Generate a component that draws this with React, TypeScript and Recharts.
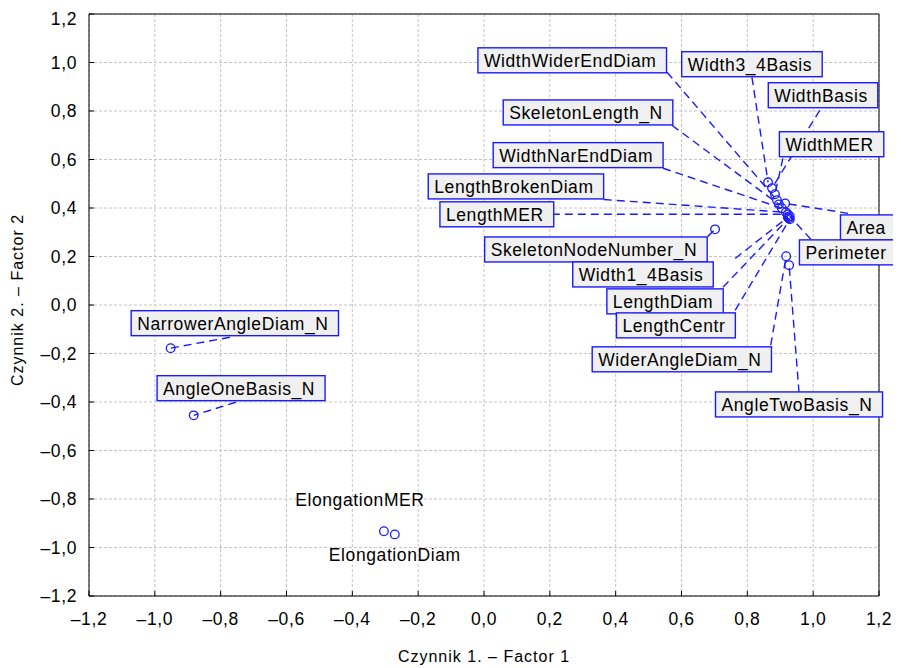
import { ScatterChart, Scatter, XAxis, YAxis, CartesianGrid } from "recharts";

// loadings (factor 1 / factor 2)
const names = [
  "WidthWiderEndDiam", "Width3_4Basis", "WidthBasis", "SkeletonLength_N",
  "WidthMER", "WidthNarEndDiam", "LengthBrokenDiam", "LengthMER",
  "Area", "Perimeter", "SkeletonNodeNumber_N", "Width1_4Basis",
  "LengthDiam", "LengthCentr", "WiderAngleDiam_N", "AngleTwoBasis_N",
  "NarrowerAngleDiam_N", "AngleOneBasis_N", "ElongationMER", "ElongationDiam",
];
const pointX = [0.890, 0.863, 0.875, 0.896, 0.884, 0.905, 0.917, 0.923, 0.915, 0.929, 0.702, 0.923, 0.926, 0.929, 0.918, 0.927, -0.952, -0.882, -0.304, -0.271];
const pointY = [0.432, 0.506, 0.482, 0.415, 0.457, 0.399, 0.382, 0.374, 0.419, 0.366, 0.312, 0.362, 0.358, 0.354, 0.201, 0.164, -0.178, -0.455, -0.933, -0.946];

// where each label sits, and where its leader leaves the box (chart units)
const labelX = [0.268, 0.814, 1.030, 0.316, 1.056, 0.286, 0.097, 0.039, 1.167, 1.106, 0.340, 0.483, 0.550, 0.583, 0.601, 0.957, -0.757, -0.738, -0.377, -0.271];
const labelY = [1.009, 0.993, 0.865, 0.794, 0.663, 0.618, 0.489, 0.374, 0.320, 0.217, 0.229, 0.126, 0.015, -0.084, -0.224, -0.410, -0.075, -0.343, -0.803, -1.032];
const leaderX = [0.556, 0.814, 1.020, 0.571, 0.908, 0.544, 0.364, 0.206, 1.106, 0.993, 0.680, 0.763, 0.726, 0.763, 0.871, 0.957, -0.772, -0.754, null, null];
const leaderY = [0.960, 0.939, 0.803, 0.741, 0.605, 0.564, 0.435, 0.374, 0.378, 0.271, 0.283, 0.192, 0.073, -0.022, -0.166, -0.361, -0.133, -0.401, null, null];

const ticks = [-1.2, -1.0, -0.8, -0.6, -0.4, -0.2, 0, 0.2, 0.4, 0.6, 0.8, 1.0, 1.2];

const BLUE = "#1a1aff";
const FONT = '"Liberation Sans", Arial, sans-serif';
const LABEL_SIZE = 17.5;
const LABEL_SPACING = 0.6;

const points = names.map((name, i) => ({ name, x: pointX[i], y: pointY[i] }));
const labels = names.map((name, i) => ({ name, x: labelX[i], y: labelY[i], boxed: leaderX[i] !== null }));
const leaders = names
  .map((name, i) => ({ name, i }))
  .filter(({ i }) => leaderX[i] !== null)
  .map(({ name, i }) => ({
    name,
    data: [
      { x: leaderX[i], y: leaderY[i] },
      { x: pointX[i], y: pointY[i] },
    ],
  }));

let ctx: CanvasRenderingContext2D | null = null;
function textWidth(s: string) {
  if (!ctx) ctx = document.createElement("canvas").getContext("2d");
  if (!ctx) return s.length * 9;
  ctx.font = `${LABEL_SIZE}px ${FONT}`;
  return ctx.measureText(s).width + s.length * LABEL_SPACING;
}

const fmt = (v: number) => v.toFixed(1).replace(".", ",").replace("-", "\u2013");

function PointShape(props: any) {
  const { cx, cy } = props;
  return <circle cx={cx} cy={cy} r={4.3} fill="none" stroke={BLUE} strokeWidth={1.3} />;
}

function LabelShape(props: any) {
  const { cx, cy, payload } = props;
  const txt = payload.name;
  if (!payload.boxed) {
    return (
      <text x={cx} y={cy + 6} textAnchor="middle" fontSize={LABEL_SIZE} fontFamily={FONT}
        letterSpacing={LABEL_SPACING} fill="#000">
        {txt}
      </text>
    );
  }
  const w = textWidth(txt) + 16;
  const left = cx - w / 2;
  return (
    <g>
      <rect x={left} y={cy - 12.5} width={w} height={25} fill="#f0f0f0" stroke={BLUE} strokeWidth={1.4} />
      <text x={left + 6} y={cy + 6.5} fontSize={LABEL_SIZE} fontFamily={FONT}
        letterSpacing={LABEL_SPACING} fill="#000">
        {txt}
      </text>
    </g>
  );
}

function YTitle(props: any) {
  const { viewBox } = props;
  const cy = viewBox.y + viewBox.height / 2 - 5;
  return (
    <text transform={`translate(9, ${cy}) rotate(-90)`} textAnchor="middle" dominantBaseline="central"
      fontSize={16} fontFamily={FONT} letterSpacing={1} fill="#000">
      Czynnik 2. – Factor 2
    </text>
  );
}

const tickStyle = { fill: "#000", fontSize: LABEL_SIZE, fontFamily: FONT, letterSpacing: 0.6 };

export default function App() {
  return (
    <div style={{ fontFamily: FONT }}>
      <ScatterChart width={885} height={660} margin={{ top: 5, right: 13, left: 0, bottom: 0 }}>
        <CartesianGrid stroke="#c4c4c4" strokeDasharray="3 2" />
        <XAxis
          type="number"
          dataKey="x"
          domain={[-1.2, 1.2]}
          ticks={ticks}
          tickFormatter={fmt}
          height={72}
          tickSize={-5}
          tickMargin={22}
          tick={tickStyle}
          axisLine={{ stroke: "#000" }}
          tickLine={{ stroke: "#000" }}
          label={{ value: "Czynnik 1. – Factor 1", position: "insideBottom", offset: 6, fill: "#000", fontSize: 16, fontFamily: FONT, letterSpacing: 1 }}
        />
        <YAxis
          type="number"
          dataKey="y"
          domain={[-1.2, 1.2]}
          ticks={ticks}
          tickFormatter={fmt}
          width={81}
          tickSize={-5}
          tickMargin={17}
          tick={tickStyle}
          axisLine={{ stroke: "#000" }}
          tickLine={{ stroke: "#000" }}
          label={{ content: YTitle }}
        />
        <XAxis
          xAxisId="top"
          orientation="top"
          type="number"
          dataKey="x"
          domain={[-1.2, 1.2]}
          ticks={ticks}
          height={1}
          tick={false}
          tickSize={-5}
          axisLine={{ stroke: "#000" }}
          tickLine={{ stroke: "#000" }}
        />
        <YAxis
          yAxisId="right"
          orientation="right"
          type="number"
          dataKey="y"
          domain={[-1.2, 1.2]}
          ticks={ticks}
          width={1}
          tick={false}
          tickSize={-5}
          axisLine={{ stroke: "#000" }}
          tickLine={{ stroke: "#000" }}
        />
        {leaders.map((l) => (
          <Scatter
            key={l.name}
            data={l.data}
            line={{ stroke: BLUE, strokeWidth: 1.4, strokeDasharray: "8 5" }}
            shape={() => <g />}
            isAnimationActive={false}
          />
        ))}
        <Scatter data={points} xAxisId="top" yAxisId="right" shape={PointShape} isAnimationActive={false} />
        <Scatter data={labels} xAxisId="top" yAxisId="right" shape={LabelShape} isAnimationActive={false} />
      </ScatterChart>
    </div>
  );
}
